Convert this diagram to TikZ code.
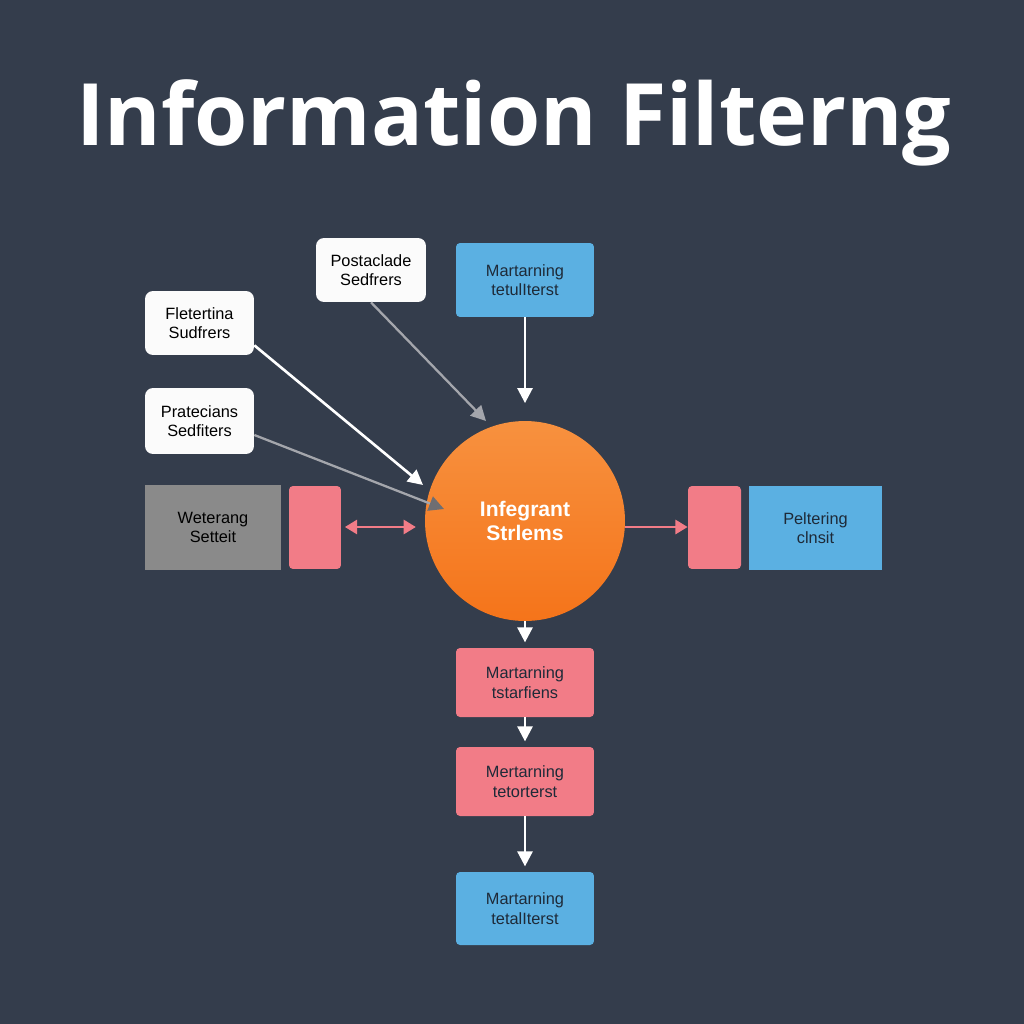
\documentclass[tikz,border=0pt]{standalone}
\usepackage{fontspec}
\setmainfont{Liberation Sans}
\newfontfamily\titlefont[Ligatures=NoCommon]{Open Sans}
\usetikzlibrary{arrows.meta,calc,shapes.geometric}
\definecolor{bgslate}{HTML}{343D4C}
\definecolor{cardwhite}{HTML}{FBFBFB}
\definecolor{skyblue}{HTML}{5BB0E2}
\definecolor{rosepink}{HTML}{F27C87}
\definecolor{slategray}{HTML}{8A8A8A}
\definecolor{orangetop}{HTML}{F7913F}
\definecolor{orangebot}{HTML}{F5741A}
\definecolor{inktext}{HTML}{1E2A38}
\definecolor{greyline}{HTML}{A4A6AC}
\definecolor{greyhead}{HTML}{6E6E72}
\tikzset{
  boxtext/.style={font=\fontsize{9.3}{11}\selectfont, align=center, text=inktext},
  whitecard/.style={boxtext, fill=cardwhite, rounded corners=0.16cm, text=black},
  bluecard/.style={boxtext, fill=skyblue, rounded corners=0.08cm},
  pinkcard/.style={boxtext, fill=rosepink, rounded corners=0.08cm},
  plainblue/.style={boxtext, fill=skyblue},
  graycard/.style={boxtext, fill=slategray, text=black},
  pinkbar/.style={fill=rosepink, rounded corners=0.08cm},
  whitearrow/.style={draw=white, line width=1.5pt, -{Triangle[length=8.5pt,width=8.5pt]}},
  greyarrow/.style={draw=greyline, line width=1.3pt, -{Triangle[length=8.5pt,width=8.5pt]}},
  pinkarrow/.style={draw=rosepink, line width=1.6pt, -{Triangle[length=7pt,width=8pt]}},
}
\begin{document}
\begin{tikzpicture}[x=0.02cm,y=-0.02cm]
  % backdrop
  \fill[bgslate] (0,0) rectangle (1024,1024);
  \useasboundingbox (0,0) rectangle (1024,1024);

  % heading
  \node[anchor=base, text=white, font=\titlefont\bfseries\fontsize{49}{58}\selectfont] (title) at (514,145) {Information Filterng};

  % upper-left source cards
  \node[whitecard, minimum width=2.2cm, minimum height=1.28cm] (post) at (371,270) {Postaclade\\Sedfrers};
  \node[whitecard, minimum width=2.18cm, minimum height=1.28cm] (flet) at (199.5,323) {Fletertina\\Sudfrers};
  \node[whitecard, minimum width=2.18cm, minimum height=1.32cm] (prat) at (199.5,421) {Pratecians\\Sedfiters};

  % top input
  \node[bluecard, minimum width=2.76cm, minimum height=1.48cm] (topin) at (525,280) {Martarning\\tetulIterst};

  % middle row
  \node[graycard, minimum width=2.72cm, minimum height=1.7cm] (wet) at (213,527.5) {Weterang\\Setteit};
  \node[pinkbar, minimum width=1.04cm, minimum height=1.66cm] (barL) at (315,527.5) {};
  \node[circle, minimum size=4cm, top color=orangetop, bottom color=orangebot,
        text=white, font=\bfseries\fontsize{12}{13.6}\selectfont, align=center] (hub) at (525,521) {Infegrant\\Strlems};
  \node[pinkbar, minimum width=1.06cm, minimum height=1.66cm] (barR) at (714.5,527.5) {};
  \node[plainblue, minimum width=2.66cm, minimum height=1.68cm] (pel) at (815.5,528) {Peltering\\clnsit};

  % lower chain
  \node[pinkcard, minimum width=2.76cm, minimum height=1.38cm] (low1) at (525,682.5) {Martarning\\tstarfiens};
  \node[pinkcard, minimum width=2.76cm, minimum height=1.38cm] (low2) at (525,781.5) {Mertarning\\tetorterst};
  \node[bluecard, minimum width=2.76cm, minimum height=1.46cm] (low3) at (525,908.5) {Martarning\\tetalIterst};

  % arrow end points near the hub
  \coordinate (postend) at (486,421);
  \coordinate (fletend) at (423,485);
  \coordinate (pratend) at (444,509);

  % connectors
  \draw[whitearrow, shorten >=10pt] (topin.south) -- (hub.north);
  \draw[greyarrow] (post.south) -- (postend);
  \draw[whitearrow] ($(flet.south east)+(0,-10)$) -- (fletend);
  \draw[draw=greyline, line width=1.3pt, -{Triangle[length=8.5pt,width=8.5pt,color=greyhead]}] ($(prat.east)+(0,14)$) -- (pratend);
  \draw[pinkarrow, {Triangle[length=7pt,width=8pt]}-{Triangle[length=7pt,width=8pt]}, shorten <=2pt, shorten >=5pt] (barL.east |- 0,527) -- (hub.west |- 0,527);
  \draw[pinkarrow] ($(hub.east)+(0,6)$) -- (barR.west |- 0,527);
  \draw[whitearrow, shorten >=3pt] (hub.south) -- (low1.north);
  \draw[whitearrow, shorten >=3pt] (low1.south) -- (low2.north);
  \draw[whitearrow, shorten >=3pt] (low2.south) -- (low3.north);
\end{tikzpicture}
\end{document}
